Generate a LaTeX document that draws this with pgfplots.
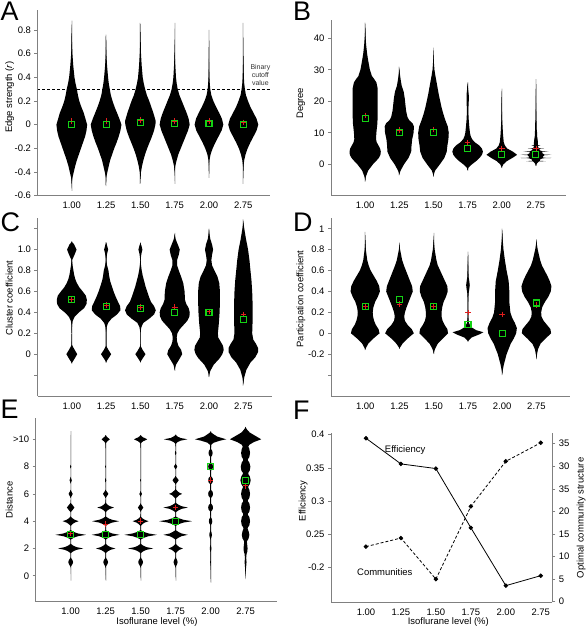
\documentclass[border=0pt]{standalone}
\usepackage{fontspec}
\setmainfont{Liberation Sans}
\usepackage{pgfplots}
\pgfplotsset{compat=1.18}
\definecolor{axgray}{RGB}{128,128,128}
\definecolor{medgreen}{RGB}{20,210,20}
\definecolor{avgred}{RGB}{225,30,30}

% each violin: half-widths w at heights y, mirrored about the category position
\newcommand{\violin}[2]{%
  \addplot[violinfill] table[row sep=\\, x expr={#1+\thisrow{w}-0.012}, y=y]{#2};%
  \addplot[violinfill] table[row sep=\\, x expr={#1-\thisrow{w}+0.012}, y=y]{#2};%
}

\pgfplotsset{
  violinfill/.style={fill=black, draw=none, mark=none, forget plot},
  vaxis/.style={
    scale only axis,
    axis x line*=bottom, axis y line*=left,
    axis line style={draw=axgray, line width=0.9bp, -},
    tick align=outside,
    major tick length=3bp,
    xtick style={draw=none},
    ytick style={draw=axgray, line width=0.6bp},
    xtick={1,2,3,4,5,6},
    xticklabels={1.00,1.25,1.50,1.75,2.00,2.75},
    xmin=0,
    tick label style={font=\fontsize{9.5}{11}\selectfont},
    label style={font=\fontsize{9.5}{11}\selectfont},
    /pgf/number format/assume math mode=true,
  },
  med/.style={only marks, mark=square, mark size=3bp, mark options={draw=medgreen, line width=1.1bp, fill=none}, forget plot},
  avg/.style={only marks, mark=+, mark size=2.8bp, mark options={draw=avgred, line width=0.8bp}, forget plot},
}

\begin{document}
\begin{tikzpicture}
\useasboundingbox (0,0) rectangle (587bp,628bp);

% ---------------- A ----------------
\begin{axis}[vaxis, at={(37.5bp,432.3bp)}, anchor=south west, width=232.5bp, height=185.7bp,
  xmax=6.78, ymin=-0.6, ymax=0.969,
  ytick={-0.6,-0.4,-0.2,0,0.2,0.4,0.6,0.8},
  yticklabels={-0.6,-0.4,-0.2,0,0.2,0.4,0.6,0.8},
  ylabel={Edge strength (\textit{r})},
  ylabel style={at={(axis description cs:-0.12,0.53)}, anchor=center}]
\violin{1}{y w\\ -0.56 0\\ -0.5 0.01\\ -0.45 0.03\\ -0.4 0.07\\ -0.35 0.11\\ -0.3 0.16\\ -0.25 0.22\\ -0.2 0.28\\ -0.15 0.34\\ -0.1 0.4\\ -0.05 0.44\\ 0 0.46\\ 0.05 0.41\\ 0.1 0.36\\ 0.15 0.29\\ 0.2 0.23\\ 0.25 0.19\\ 0.3 0.16\\ 0.35 0.12\\ 0.4 0.09\\ 0.5 0.055\\ 0.6 0.03\\ 0.7 0.018\\ 0.8 0.008\\ 0.88 0\\}
\violin{2}{y w\\ -0.52 0\\ -0.45 0.015\\ -0.4 0.05\\ -0.35 0.09\\ -0.3 0.13\\ -0.25 0.19\\ -0.2 0.25\\ -0.15 0.32\\ -0.1 0.38\\ -0.05 0.43\\ 0 0.46\\ 0.05 0.4\\ 0.1 0.33\\ 0.15 0.26\\ 0.2 0.2\\ 0.25 0.15\\ 0.3 0.12\\ 0.35 0.09\\ 0.4 0.07\\ 0.5 0.04\\ 0.6 0.02\\ 0.7 0.01\\ 0.76 0\\}
\violin{3}{y w\\ -0.5 0\\ -0.45 0.01\\ -0.4 0.03\\ -0.35 0.06\\ -0.3 0.1\\ -0.25 0.15\\ -0.2 0.21\\ -0.15 0.28\\ -0.1 0.35\\ -0.05 0.41\\ 0 0.45\\ 0.03 0.46\\ 0.05 0.44\\ 0.1 0.39\\ 0.15 0.33\\ 0.2 0.27\\ 0.25 0.2\\ 0.3 0.15\\ 0.35 0.11\\ 0.4 0.08\\ 0.5 0.05\\ 0.6 0.03\\ 0.7 0.015\\ 0.8 0.007\\ 0.86 0\\}
\violin{4}{y w\\ -0.5 0\\ -0.4 0.01\\ -0.35 0.03\\ -0.3 0.07\\ -0.25 0.12\\ -0.2 0.19\\ -0.15 0.26\\ -0.1 0.33\\ -0.05 0.4\\ 0 0.45\\ 0.05 0.42\\ 0.1 0.36\\ 0.15 0.29\\ 0.2 0.22\\ 0.25 0.15\\ 0.3 0.1\\ 0.35 0.07\\ 0.4 0.05\\ 0.5 0.03\\ 0.6 0.015\\ 0.7 0.008\\ 0.86 0\\}
\violin{5}{y w\\ -0.45 0\\ -0.35 0.01\\ -0.3 0.025\\ -0.25 0.06\\ -0.2 0.12\\ -0.15 0.2\\ -0.1 0.29\\ -0.05 0.38\\ 0 0.43\\ 0.05 0.39\\ 0.1 0.31\\ 0.15 0.22\\ 0.2 0.14\\ 0.25 0.08\\ 0.3 0.05\\ 0.35 0.035\\ 0.4 0.025\\ 0.5 0.015\\ 0.6 0.008\\ 0.8 0\\}
\violin{6}{y w\\ -0.5 0\\ -0.4 0.01\\ -0.35 0.02\\ -0.3 0.04\\ -0.25 0.08\\ -0.2 0.14\\ -0.15 0.22\\ -0.1 0.31\\ -0.05 0.4\\ 0 0.45\\ 0.05 0.4\\ 0.1 0.31\\ 0.15 0.22\\ 0.2 0.15\\ 0.25 0.09\\ 0.3 0.06\\ 0.35 0.04\\ 0.4 0.03\\ 0.5 0.02\\ 0.6 0.01\\ 0.86 0\\}
\addplot[black, densely dashed, line width=0.6bp, forget plot] coordinates {(0,0.3) (6.78,0.3)};
\addplot[avg] coordinates {(1,0.03) (2,0.03) (3,0.04) (4,0.03) (5,0.03) (6,0.02)};
\addplot[med] coordinates {(1,0) (2,0) (3,0.015) (4,0.01) (5,0.01) (6,0)};
\node[align=center, font=\fontsize{7}{8}\selectfont, text=black!80] at (axis cs:6.5,0.42) {Binary\\cutoff\\value};
\end{axis}

% ---------------- B ----------------
\begin{axis}[vaxis, at={(331bp,433bp)}, anchor=south west, width=235bp, height=175bp,
  xmax=6.88, ymin=-9.75, ymax=45.8,
  ytick={0,10,20,30,40}, yticklabels={0,10,20,30,40},
  ylabel={Degree},
  ylabel style={at={(axis description cs:-0.128,0.524)}, anchor=center}]
\violin{1}{y w\\ -5.5 0\\ -4 0.03\\ -2 0.1\\ 0 0.24\\ 1 0.33\\ 2 0.41\\ 3 0.46\\ 4 0.47\\ 5 0.45\\ 6 0.4\\ 7 0.35\\ 8 0.33\\ 10 0.34\\ 13 0.37\\ 16 0.38\\ 20 0.38\\ 24 0.38\\ 26 0.34\\ 27 0.28\\ 28 0.21\\ 30 0.15\\ 33 0.1\\ 35 0.07\\ 38 0.04\\ 41 0.02\\ 45 0\\}
\violin{2}{y w\\ -3.5 0\\ -2 0.05\\ 0 0.15\\ 2 0.28\\ 4 0.36\\ 6 0.37\\ 8 0.39\\ 10 0.43\\ 12 0.44\\ 13 0.4\\ 14 0.3\\ 15 0.25\\ 17 0.21\\ 19 0.19\\ 21 0.17\\ 23 0.14\\ 25 0.08\\ 27 0.05\\ 29 0.025\\ 31 0\\}
\violin{3}{y w\\ -4 0\\ -2 0.06\\ 0 0.2\\ 2 0.33\\ 4 0.4\\ 6 0.42\\ 8 0.45\\ 10 0.46\\ 12 0.43\\ 14 0.36\\ 16 0.3\\ 18 0.25\\ 20 0.21\\ 22 0.17\\ 25 0.12\\ 28 0.07\\ 30 0.04\\ 33 0.02\\ 37 0\\}
\violin{4}{y w\\ -2 0\\ -1 0.04\\ 0 0.14\\ 1 0.26\\ 2 0.36\\ 3 0.43\\ 4 0.46\\ 5 0.43\\ 6 0.35\\ 7 0.22\\ 8 0.14\\ 9 0.1\\ 10 0.08\\ 12 0.06\\ 14 0.045\\ 16 0.035\\ 18 0.035\\ 20 0.045\\ 22 0.045\\ 24 0.025\\ 26 0\\}
\violin{5}{y w\\ -1.2 0\\ 0 0.06\\ 1 0.16\\ 2 0.32\\ 3 0.46\\ 4 0.34\\ 5 0.17\\ 6 0.1\\ 7 0.07\\ 8 0.06\\ 10 0.045\\ 12 0.035\\ 14 0.025\\ 18 0.015\\ 22 0.01\\ 24 0\\}
\violin{6}{y w\\ -0.6 0\\ 0.4 0.05\\ 0.9 0.1\\ 1 0.3\\ 1.1 0.12\\ 1.6 0.14\\ 1.9 0.22\\ 2 0.46\\ 2.1 0.22\\ 2.5 0.22\\ 2.9 0.26\\ 3 0.46\\ 3.1 0.26\\ 3.5 0.2\\ 3.9 0.2\\ 4 0.38\\ 4.1 0.2\\ 4.5 0.12\\ 4.9 0.12\\ 5 0.25\\ 5.1 0.1\\ 5.5 0.07\\ 5.9 0.08\\ 6 0.15\\ 6.1 0.07\\ 7 0.07\\ 8 0.06\\ 9 0.045\\ 10 0.045\\ 11 0.035\\ 12 0.035\\ 13 0.035\\ 14 0.025\\ 15 0.025\\ 16 0.025\\ 18 0.015\\ 21 0.012\\ 24 0.006\\ 27 0\\}
\addplot[avg] coordinates {(1,15.5) (2,10.8) (3,11) (4,6.8) (5,5) (6,5)};
\addplot[med] coordinates {(1,14.5) (2,10) (3,10) (4,5) (5,3) (6,3)};
\end{axis}

% ---------------- C ----------------
\begin{axis}[vaxis, at={(37.5bp,232bp)}, anchor=south west, width=235bp, height=177.7bp,
  xmax=6.85, ymin=-0.4, ymax=1.3,
  ytick={-0.2,0,0.2,0.4,0.6,0.8,1,1.2},
  yticklabels={{},0,0.2,0.4,0.6,0.8,1.0,{}},
  ylabel={Cluster coefficient},
  ylabel style={at={(axis description cs:-0.12,0.55)}, anchor=center}]
\violin{1}{y w\\ -0.09 0\\ -0.05 0.08\\ 0 0.17\\ 0.05 0.08\\ 0.09 0.015\\ 0.2 0.01\\ 0.28 0.02\\ 0.32 0.04\\ 0.36 0.1\\ 0.4 0.22\\ 0.44 0.37\\ 0.48 0.44\\ 0.52 0.45\\ 0.56 0.42\\ 0.6 0.33\\ 0.64 0.23\\ 0.68 0.16\\ 0.72 0.11\\ 0.76 0.08\\ 0.8 0.06\\ 0.85 0.035\\ 0.9 0.02\\ 0.95 0.09\\ 1.0 0.15\\ 1.05 0.08\\ 1.08 0\\}
\violin{2}{y w\\ -0.08 0\\ -0.04 0.08\\ 0 0.16\\ 0.04 0.08\\ 0.08 0.015\\ 0.2 0.01\\ 0.26 0.03\\ 0.3 0.07\\ 0.34 0.17\\ 0.38 0.33\\ 0.42 0.43\\ 0.46 0.42\\ 0.5 0.36\\ 0.55 0.29\\ 0.6 0.23\\ 0.65 0.18\\ 0.7 0.13\\ 0.75 0.1\\ 0.8 0.08\\ 0.85 0.04\\ 0.9 0.015\\ 0.96 0.04\\ 1.0 0.07\\ 1.04 0.04\\ 1.07 0\\}
\violin{3}{y w\\ -0.08 0\\ -0.04 0.08\\ 0 0.16\\ 0.04 0.08\\ 0.08 0.015\\ 0.2 0.01\\ 0.26 0.04\\ 0.3 0.1\\ 0.34 0.27\\ 0.38 0.41\\ 0.42 0.46\\ 0.46 0.41\\ 0.5 0.32\\ 0.55 0.26\\ 0.6 0.21\\ 0.65 0.16\\ 0.7 0.12\\ 0.75 0.08\\ 0.8 0.05\\ 0.85 0.03\\ 0.9 0.015\\ 0.96 0.04\\ 1.0 0.07\\ 1.04 0.04\\ 1.07 0\\}
\violin{4}{y w\\ -0.16 0\\ -0.1 0.05\\ -0.04 0.16\\ 0 0.23\\ 0.04 0.2\\ 0.08 0.12\\ 0.12 0.08\\ 0.16 0.07\\ 0.2 0.09\\ 0.24 0.16\\ 0.28 0.27\\ 0.32 0.38\\ 0.36 0.44\\ 0.4 0.45\\ 0.44 0.42\\ 0.48 0.35\\ 0.52 0.31\\ 0.6 0.3\\ 0.68 0.26\\ 0.74 0.2\\ 0.8 0.13\\ 0.85 0.08\\ 0.9 0.08\\ 0.95 0.13\\ 1.0 0.16\\ 1.05 0.1\\ 1.1 0.04\\ 1.16 0\\}
\violin{5}{y w\\ -0.22 0\\ -0.16 0.05\\ -0.1 0.15\\ -0.04 0.32\\ 0 0.4\\ 0.04 0.44\\ 0.08 0.42\\ 0.12 0.35\\ 0.16 0.28\\ 0.2 0.27\\ 0.3 0.3\\ 0.4 0.32\\ 0.5 0.33\\ 0.6 0.33\\ 0.68 0.31\\ 0.74 0.26\\ 0.8 0.17\\ 0.85 0.1\\ 0.9 0.08\\ 0.95 0.1\\ 1.0 0.13\\ 1.05 0.1\\ 1.1 0.05\\ 1.16 0.02\\ 1.2 0\\}
\violin{6}{y w\\ -0.3 0\\ -0.22 0.04\\ -0.15 0.1\\ -0.08 0.22\\ -0.03 0.36\\ 0.02 0.44\\ 0.06 0.44\\ 0.1 0.38\\ 0.14 0.3\\ 0.2 0.27\\ 0.3 0.28\\ 0.4 0.28\\ 0.5 0.28\\ 0.6 0.27\\ 0.7 0.25\\ 0.8 0.22\\ 0.9 0.19\\ 1.0 0.15\\ 1.1 0.09\\ 1.2 0.04\\ 1.29 0\\}
\addplot[avg] coordinates {(1,0.52) (2,0.47) (3,0.45) (4,0.45) (5,0.41) (6,0.38)};
\addplot[med] coordinates {(1,0.52) (2,0.46) (3,0.44) (4,0.40) (5,0.40) (6,0.33)};
\end{axis}

% ---------------- D ----------------
\begin{axis}[vaxis, at={(331bp,232bp)}, anchor=south west, width=239bp, height=177.7bp,
  xmax=6.98, ymin=-0.6, ymax=1.1,
  ytick={-0.4,-0.2,0,0.2,0.4,0.6,0.8,1},
  yticklabels={{},-0.2,0,0.2,0.4,0.6,0.8,1},
  ylabel={Participation coefficient},
  ylabel style={at={(axis description cs:-0.126,0.546)}, anchor=center}]
\violin{1}{y w\\ -0.16 0\\ -0.1 0.1\\ -0.05 0.25\\ 0 0.43\\ 0.04 0.4\\ 0.08 0.32\\ 0.12 0.27\\ 0.16 0.24\\ 0.2 0.23\\ 0.25 0.25\\ 0.3 0.3\\ 0.35 0.38\\ 0.4 0.44\\ 0.45 0.42\\ 0.5 0.35\\ 0.55 0.26\\ 0.6 0.17\\ 0.65 0.11\\ 0.7 0.07\\ 0.8 0.03\\ 0.9 0.01\\ 0.97 0\\}
\violin{2}{y w\\ -0.15 0\\ -0.1 0.1\\ -0.05 0.25\\ 0 0.43\\ 0.04 0.37\\ 0.08 0.25\\ 0.12 0.17\\ 0.16 0.15\\ 0.2 0.17\\ 0.25 0.22\\ 0.3 0.28\\ 0.35 0.34\\ 0.4 0.4\\ 0.45 0.38\\ 0.5 0.32\\ 0.55 0.26\\ 0.6 0.2\\ 0.65 0.14\\ 0.7 0.09\\ 0.8 0.03\\ 0.87 0\\}
\violin{3}{y w\\ -0.2 0\\ -0.15 0.05\\ -0.1 0.13\\ -0.05 0.28\\ 0 0.43\\ 0.04 0.41\\ 0.08 0.33\\ 0.12 0.27\\ 0.16 0.24\\ 0.2 0.24\\ 0.25 0.26\\ 0.3 0.3\\ 0.35 0.37\\ 0.4 0.42\\ 0.45 0.41\\ 0.5 0.34\\ 0.55 0.27\\ 0.6 0.2\\ 0.65 0.13\\ 0.7 0.09\\ 0.8 0.04\\ 0.9 0.01\\ 0.96 0\\}
\violin{4}{y w\\ -0.08 0\\ -0.04 0.12\\ -0.01 0.35\\ 0.01 0.46\\ 0.03 0.25\\ 0.06 0.1\\ 0.1 0.04\\ 0.15 0.025\\ 0.2 0.02\\ 0.3 0.02\\ 0.38 0.03\\ 0.42 0.05\\ 0.46 0.065\\ 0.5 0.05\\ 0.54 0.03\\ 0.6 0.025\\ 0.65 0.02\\ 0.7 0.01\\ 0.78 0\\}
\violin{5}{y w\\ -0.4 0\\ -0.35 0.03\\ -0.3 0.06\\ -0.2 0.14\\ -0.1 0.26\\ -0.05 0.35\\ 0 0.42\\ 0.05 0.44\\ 0.1 0.38\\ 0.15 0.3\\ 0.2 0.25\\ 0.3 0.22\\ 0.4 0.22\\ 0.5 0.2\\ 0.6 0.14\\ 0.7 0.09\\ 0.8 0.05\\ 0.9 0.025\\ 1.0 0\\}
\violin{6}{y w\\ -0.25 0\\ -0.15 0.06\\ -0.1 0.13\\ -0.05 0.28\\ 0 0.44\\ 0.04 0.42\\ 0.08 0.32\\ 0.12 0.22\\ 0.16 0.16\\ 0.2 0.15\\ 0.25 0.18\\ 0.3 0.26\\ 0.35 0.36\\ 0.4 0.43\\ 0.45 0.45\\ 0.5 0.4\\ 0.55 0.33\\ 0.6 0.25\\ 0.65 0.17\\ 0.7 0.12\\ 0.8 0.05\\ 0.9 0\\}
\addplot[avg] coordinates {(1,0.26) (2,0.28) (3,0.26) (4,0.20) (5,0.18) (6,0.27)};
\addplot[med] coordinates {(1,0.26) (2,0.32) (3,0.26) (4,0.08) (5,0) (6,0.29)};
\end{axis}

% ---------------- E ----------------
\begin{axis}[vaxis, at={(35.7bp,26.3bp)}, anchor=south west, width=241bp, height=183.4bp,
  xmax=6.89, ymin=-1.9, ymax=11.54,
  ytick={0,2,4,6,8,10}, yticklabels={0,2,4,6,8,>10},
  ylabel={Distance},
  ylabel style={at={(axis description cs:-0.11,0.555)}, anchor=center},
  xlabel={Isoflurane level (\%)},
  xlabel style={at={(axis description cs:0.503,-0.109)}, anchor=center}]
\violin{1}{y w\\ -0.35 0\\ 0.5 0.005\\ 0.65 0.01\\ 0.8 0.05\\ 0.9 0.07\\ 1 0.08\\ 1.1 0.07\\ 1.2 0.05\\ 1.35 0.01\\ 1.65 0.01\\ 1.8 0.09\\ 1.9 0.18\\ 2 0.37\\ 2.1 0.18\\ 2.2 0.09\\ 2.35 0.01\\ 2.65 0.01\\ 2.8 0.11\\ 2.9 0.22\\ 3 0.45\\ 3.1 0.22\\ 3.2 0.11\\ 3.35 0.01\\ 3.65 0.01\\ 3.8 0.07\\ 3.9 0.13\\ 4 0.24\\ 4.1 0.13\\ 4.2 0.07\\ 4.35 0.01\\ 4.65 0.008\\ 4.8 0.06\\ 4.9 0.09\\ 5 0.12\\ 5.1 0.09\\ 5.2 0.06\\ 5.35 0.008\\ 5.7 0.006\\ 5.85 0.04\\ 6 0.07\\ 6.15 0.04\\ 6.3 0.006\\ 6.75 0.005\\ 6.9 0.03\\ 7 0.045\\ 7.1 0.03\\ 7.25 0.005\\ 7.85 0.004\\ 8 0.03\\ 8.15 0.004\\ 9 0.006\\ 10 0.006\\ 10.6 0\\}
\violin{2}{y w\\ -0.35 0\\ 0.5 0.005\\ 0.65 0.01\\ 0.8 0.05\\ 0.9 0.07\\ 1 0.08\\ 1.1 0.07\\ 1.2 0.05\\ 1.35 0.01\\ 1.65 0.01\\ 1.8 0.08\\ 1.9 0.15\\ 2 0.29\\ 2.1 0.15\\ 2.2 0.08\\ 2.35 0.01\\ 2.65 0.01\\ 2.8 0.1\\ 2.9 0.2\\ 3 0.41\\ 3.1 0.2\\ 3.2 0.1\\ 3.35 0.01\\ 3.65 0.01\\ 3.8 0.1\\ 3.9 0.2\\ 4 0.4\\ 4.1 0.2\\ 4.2 0.1\\ 4.35 0.01\\ 4.65 0.01\\ 4.8 0.07\\ 4.9 0.13\\ 5 0.25\\ 5.1 0.13\\ 5.2 0.07\\ 5.35 0.01\\ 5.7 0.006\\ 5.85 0.05\\ 6 0.09\\ 6.15 0.05\\ 6.3 0.006\\ 6.85 0.005\\ 7 0.03\\ 7.15 0.005\\ 7.9 0.004\\ 8 0.02\\ 8.1 0.004\\ 9 0.005\\ 9.7 0.01\\ 9.85 0.06\\ 10 0.13\\ 10.15 0.06\\ 10.3 0\\}
\violin{3}{y w\\ -0.35 0\\ 0.5 0.005\\ 0.65 0.01\\ 0.8 0.05\\ 0.9 0.07\\ 1 0.08\\ 1.1 0.07\\ 1.2 0.05\\ 1.35 0.01\\ 1.65 0.01\\ 1.8 0.09\\ 1.9 0.18\\ 2 0.37\\ 2.1 0.18\\ 2.2 0.09\\ 2.35 0.01\\ 2.65 0.01\\ 2.8 0.12\\ 2.9 0.24\\ 3 0.48\\ 3.1 0.24\\ 3.2 0.12\\ 3.35 0.01\\ 3.65 0.01\\ 3.8 0.07\\ 3.9 0.13\\ 4 0.24\\ 4.1 0.13\\ 4.2 0.07\\ 4.35 0.01\\ 4.7 0.006\\ 4.85 0.05\\ 5 0.09\\ 5.15 0.05\\ 5.3 0.006\\ 5.8 0.005\\ 5.9 0.03\\ 6 0.05\\ 6.1 0.03\\ 6.2 0.005\\ 6.9 0.005\\ 7 0.02\\ 7.1 0.005\\ 8 0.008\\ 9 0.006\\ 9.7 0.01\\ 9.85 0.08\\ 10 0.2\\ 10.15 0.08\\ 10.3 0\\}
\violin{4}{y w\\ -0.35 0\\ 0.5 0.005\\ 0.65 0.01\\ 0.8 0.045\\ 0.9 0.06\\ 1 0.07\\ 1.1 0.06\\ 1.2 0.045\\ 1.35 0.01\\ 1.65 0.01\\ 1.8 0.07\\ 1.9 0.12\\ 2 0.22\\ 2.1 0.12\\ 2.2 0.07\\ 2.35 0.01\\ 2.65 0.01\\ 2.8 0.1\\ 2.9 0.18\\ 3 0.36\\ 3.1 0.18\\ 3.2 0.1\\ 3.35 0.01\\ 3.65 0.01\\ 3.8 0.12\\ 3.9 0.24\\ 4 0.48\\ 4.1 0.24\\ 4.2 0.12\\ 4.35 0.01\\ 4.65 0.01\\ 4.8 0.1\\ 4.9 0.18\\ 5 0.36\\ 5.1 0.18\\ 5.2 0.1\\ 5.35 0.01\\ 5.65 0.01\\ 5.8 0.07\\ 5.9 0.11\\ 6 0.2\\ 6.1 0.11\\ 6.2 0.07\\ 6.35 0.01\\ 6.7 0.008\\ 6.85 0.06\\ 7 0.1\\ 7.15 0.06\\ 7.3 0.008\\ 7.8 0.006\\ 7.9 0.04\\ 8 0.06\\ 8.1 0.04\\ 8.2 0.006\\ 8.85 0.005\\ 9 0.035\\ 9.15 0.005\\ 9.65 0.01\\ 9.8 0.07\\ 9.9 0.15\\ 10 0.35\\ 10.1 0.15\\ 10.2 0.07\\ 10.35 0\\}
\violin{5}{y w\\ -0.5 0\\ 0.5 0.008\\ 0.85 0.01\\ 1 0.02\\ 1.15 0.01\\ 1.75 0.012\\ 1.9 0.03\\ 2 0.035\\ 2.1 0.03\\ 2.25 0.012\\ 2.7 0.015\\ 2.85 0.04\\ 3 0.05\\ 3.15 0.04\\ 3.3 0.015\\ 3.7 0.015\\ 3.85 0.05\\ 4 0.06\\ 4.15 0.05\\ 4.3 0.015\\ 4.7 0.02\\ 4.85 0.07\\ 5 0.08\\ 5.15 0.07\\ 5.3 0.02\\ 5.7 0.02\\ 5.85 0.07\\ 6 0.08\\ 6.15 0.07\\ 6.3 0.02\\ 6.7 0.02\\ 6.85 0.07\\ 7 0.08\\ 7.15 0.07\\ 7.3 0.02\\ 7.7 0.02\\ 7.85 0.07\\ 8 0.08\\ 8.15 0.07\\ 8.3 0.02\\ 8.7 0.02\\ 8.85 0.06\\ 9 0.07\\ 9.15 0.06\\ 9.3 0.02\\ 9.6 0.03\\ 9.75 0.1\\ 9.9 0.28\\ 10 0.46\\ 10.1 0.33\\ 10.2 0.2\\ 10.3 0.14\\ 10.4 0.08\\ 10.5 0.03\\ 10.58 0\\}
\violin{6}{y w\\ -0.25 0\\ 0.3 0.015\\ 0.7 0.03\\ 1 0.04\\ 1.3 0.03\\ 1.6 0.04\\ 1.75 0.06\\ 2 0.07\\ 2.25 0.06\\ 2.5 0.05\\ 2.6 0.07\\ 2.75 0.1\\ 3 0.12\\ 3.25 0.1\\ 3.45 0.07\\ 3.55 0.08\\ 3.7 0.12\\ 4 0.14\\ 4.3 0.12\\ 4.45 0.08\\ 4.55 0.08\\ 4.7 0.12\\ 5 0.14\\ 5.3 0.12\\ 5.45 0.08\\ 5.55 0.08\\ 5.7 0.12\\ 6 0.14\\ 6.3 0.12\\ 6.45 0.09\\ 6.55 0.09\\ 6.7 0.13\\ 7 0.16\\ 7.3 0.13\\ 7.45 0.09\\ 7.55 0.09\\ 7.7 0.13\\ 8 0.15\\ 8.3 0.12\\ 8.45 0.08\\ 8.55 0.08\\ 8.7 0.12\\ 9 0.14\\ 9.3 0.12\\ 9.45 0.09\\ 9.6 0.12\\ 9.8 0.25\\ 10 0.46\\ 10.15 0.36\\ 10.3 0.26\\ 10.5 0.13\\ 10.7 0.06\\ 10.92 0\\}
\addplot[avg] coordinates {(1,3.1) (2,3.8) (3,4.0) (4,5.0) (5,7.0) (6,6.6)};
\addplot[med] coordinates {(1,3) (2,3) (3,3) (4,4) (5,8) (6,7)};
\end{axis}

% ---------------- F ----------------
\begin{axis}[vaxis, at={(331bp,25.7bp)}, anchor=south west, width=221.3bp, height=169bp,
  xmax=6.33, ymin=0.148, ymax=0.402,
  ytick={0.2,0.25,0.3,0.35,0.4}, yticklabels={-0.2,0.25,0.3,0.35,0.4},
  ylabel={Efficiency},
  ylabel style={at={(axis description cs:-0.126,0.6)}, anchor=center},
  xlabel={Isoflurane level (\%)},
  xlabel style={at={(axis description cs:0.53,-0.115)}, anchor=center}]
\addplot[black, line width=0.8bp, mark=*, mark size=1.8bp] coordinates {(1,0.3946) (2,0.356) (3,0.349) (4,0.260) (5,0.173) (6,0.188)};
\node[font=\fontsize{9.5}{11}\selectfont] at (axis cs:2.12,0.377) {Efficiency};
\node[font=\fontsize{9.5}{11}\selectfont] at (axis cs:1.54,0.194) {Communities};
\end{axis}
\begin{axis}[scale only axis, at={(331bp,25.7bp)}, anchor=south west, width=221.3bp, height=169bp,
  xmin=0, xmax=6.33, ymin=-0.13, ymax=37.3,
  axis x line=none, axis y line*=right,
  axis line style={draw=axgray, line width=0.9bp, -},
  tick align=outside, major tick length=3bp,
  ytick style={draw=axgray, line width=0.6bp},
  ytick={0,5,10,15,20,25,30,35}, yticklabels={0,5,10,15,20,35,30,35},
  tick label style={font=\fontsize{9.5}{11}\selectfont},
  label style={font=\fontsize{9.5}{11}\selectfont},
  ylabel={Optimal community structure},
  ylabel style={at={(axis description cs:1.13,0.5)}, anchor=center}]
\addplot[black, line width=0.8bp, dash pattern=on 3bp off 2bp, mark=*, mark size=1.8bp, mark options={solid}] coordinates {(1,12.2) (2,14.1) (3,5.0) (4,21.1) (5,31.1) (6,35.2)};
\end{axis}

% panel letters
\node[anchor=north west, inner sep=0pt, font=\fontsize{27}{27}\selectfont] at (0.5bp,626bp) {A};
\node[anchor=north west, inner sep=0pt, font=\fontsize{27}{27}\selectfont] at (293bp,626bp) {B};
\node[anchor=north west, inner sep=0pt, font=\fontsize{27}{27}\selectfont] at (0.5bp,415bp) {C};
\node[anchor=north west, inner sep=0pt, font=\fontsize{27}{27}\selectfont] at (293bp,415bp) {D};
\node[anchor=north west, inner sep=0pt, font=\fontsize{27}{27}\selectfont] at (0.5bp,228bp) {E};
\node[anchor=north west, inner sep=0pt, font=\fontsize{27}{27}\selectfont] at (293bp,227.5bp) {F};
\end{tikzpicture}
\end{document}
